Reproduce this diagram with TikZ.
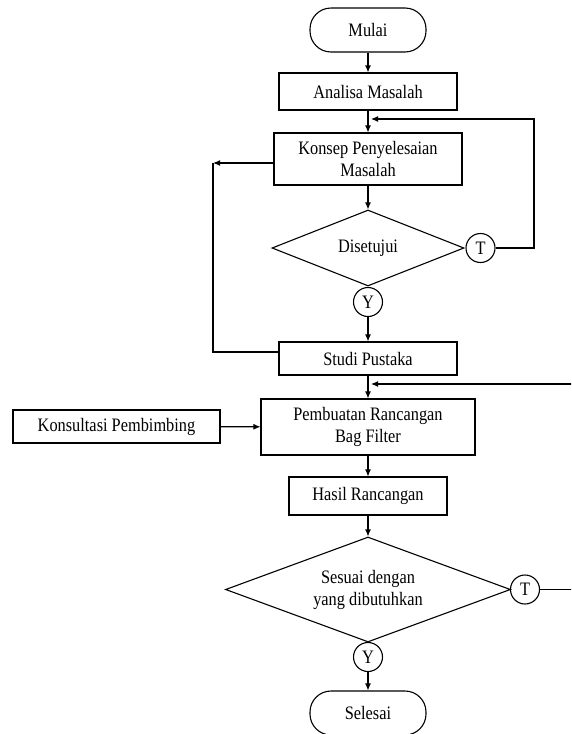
\documentclass[tikz,border=0pt]{standalone}
\usepackage{fontspec}
\setmainfont{Liberation Serif}[FakeStretch=0.86]
\usetikzlibrary{shapes.geometric,arrows.meta}
\begin{document}
\begin{tikzpicture}[x=1pt,y=-1pt,
  font=\fontsize{19}{22}\selectfont,
  line width=1.1pt,
  box/.style={draw, rectangle, inner sep=2pt, align=center},
  term/.style={draw, rectangle, rounded corners=21pt, minimum width=116pt, minimum height=44pt},
  dec/.style={draw, diamond, inner sep=0pt, align=center},
  conn/.style={draw, circle, inner sep=0pt, minimum size=29pt},
  arr/.style={-{Latex[length=7pt,width=6pt]}}]
\useasboundingbox (0,0) rectangle (571,734);
\fill[white] (0,0) rectangle (571,734);
\clip (0,0) rectangle (571,734);

\node[term] (mulai) at (368,30) {Mulai};
\node[box, minimum width=178pt, minimum height=37pt] (analisa) at (368,91.5) {Analisa Masalah};
\node[box, minimum width=188pt, minimum height=52pt] (konsep) at (368,159) {Konsep Penyelesaian\\Masalah};
\node[dec, shape aspect=2.53, minimum width=192pt, minimum height=76pt] (d1) at (368,248) {Disetujui};
\node[conn] (t1) at (480.5,248) {T};
\node[conn] (y1) at (368,302) {Y};
\node[box, minimum width=178pt, minimum height=33pt] (studi) at (368,358.5) {Studi Pustaka};
\node[box, minimum width=214pt, minimum height=56pt] (buat) at (368,427) {Pembuatan Rancangan\\Bag Filter};
\node[box, minimum width=207pt, minimum height=33pt] (konsul) at (116.5,426.5) {Konsultasi Pembimbing};
\node[box, minimum width=158pt, minimum height=38pt] (hasil) at (368,496) {Hasil Rancangan};
\node[dec, shape aspect=2.71, minimum width=285pt, minimum height=105pt] (d2) at (368,589.5) {Sesuai dengan\\yang dibutuhkan};
\node[conn] (t2) at (525,589.5) {T};
\node[conn] (y2) at (368,657) {Y};
\node[term] (selesai) at (368,713) {Selesai};

\coordinate (c1) at (213,163);
\coordinate (c2) at (213,352);
\coordinate (c3) at (534,119);
\coordinate (c4) at (371,119);
\coordinate (c5) at (578,384);
\coordinate (c6) at (371,384);

\draw[arr] (mulai) -- (analisa);
\draw[arr] (analisa) -- (konsep);
\draw[arr] (konsep) -- (d1);
\draw[arr] (y1) -- (studi);
\draw[arr] (studi) -- (buat);
\draw[arr] (buat) -- (hasil);
\draw[arr] (hasil) -- (d2);
\draw[arr] (y2) -- (selesai);
\draw[arr] (konsul) -- (buat);

\draw[arr] (konsep.west |- c1) -- (c1);
\draw (c1) -- (c2) -- (studi.west |- c2);

\draw[arr] (t1.east) -| (c3) -- (c4);
\draw[arr] (t2.east) -| (c5) -- (c6);
\end{tikzpicture}
\end{document}
